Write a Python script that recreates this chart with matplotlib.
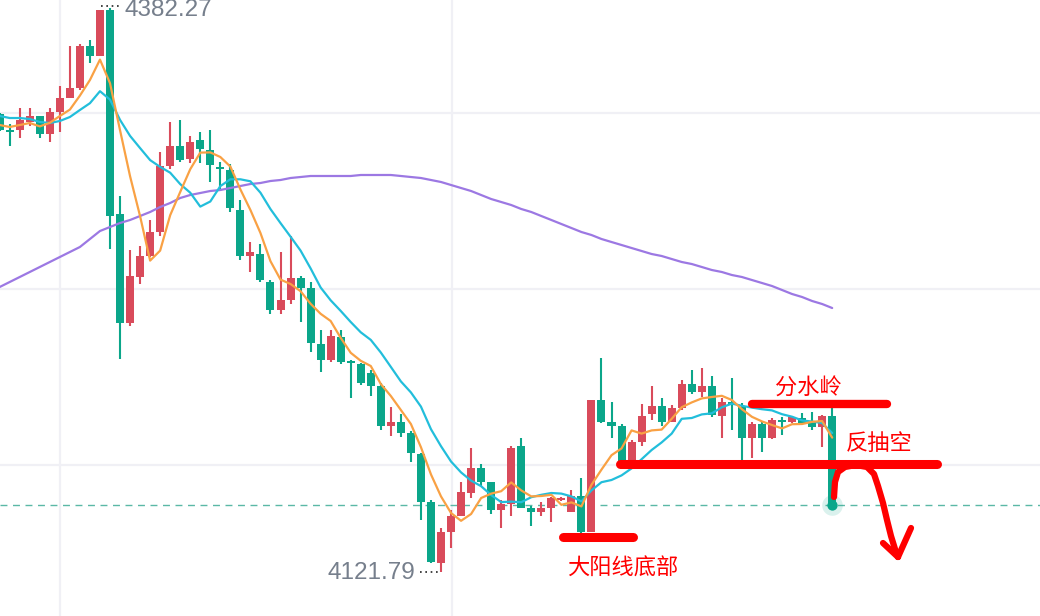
import numpy as np
import pandas as pd
import matplotlib
matplotlib.use("Agg")
import matplotlib.pyplot as plt

plt.rcParams['font.family'] = ['Noto Sans CJK SC', 'DejaVu Sans']

# ---------------- data (prices) ----------------
opens = [4333.32, 4325.93, 4325.93, 4329.63, 4332.40, 4324.08, 4334.24, 4340.71, 4345.33, 4364.73,
         4360.11, 4381.35, 4287.14, 4236.80, 4258.04, 4267.74, 4278.82, 4309.30, 4318.54, 4312.54,
         4321.31, 4316.69, 4308.84, 4307.46, 4288.98, 4267.74, 4268.66, 4255.73, 4242.80, 4247.42,
         4257.58, 4252.96, 4227.10, 4219.71, 4230.33, 4219.25, 4217.86, 4213.70, 4207.70, 4189.23,
         4191.07, 4185.99, 4176.29, 4154.13, 4125.95, 4140.27, 4147.66, 4158.28, 4169.83, 4163.36,
         4150.43, 4153.20, 4179.99, 4151.36, 4149.51, 4151.36, 4155.05, 4149.51, 4156.90, 4140.27,
         4201.23, 4191.07, 4189.23, 4172.60, 4181.84, 4194.77, 4198.46, 4191.07, 4197.54, 4208.62,
         4204.93, 4207.70, 4193.84, 4200.31, 4198.00, 4183.68, 4190.15, 4183.68, 4192.00, 4191.07,
         4192.92, 4190.61, 4188.76, 4193.84]
highs = [4333.78, 4328.70, 4336.09, 4336.09, 4332.40, 4336.09, 4346.25, 4364.73, 4365.65, 4367.50,
         4381.35, 4382.27, 4295.45, 4270.51, 4272.36, 4284.37, 4315.77, 4329.63, 4330.55, 4323.16,
         4325.01, 4325.93, 4311.15, 4310.23, 4293.60, 4274.20, 4273.28, 4256.65, 4269.59, 4276.97,
         4258.50, 4255.73, 4233.56, 4233.56, 4233.56, 4219.71, 4218.32, 4215.09, 4209.09, 4198.00,
         4194.77, 4186.92, 4176.76, 4155.05, 4142.12, 4150.43, 4163.36, 4179.07, 4171.68, 4163.36,
         4155.05, 4179.99, 4183.68, 4152.28, 4154.13, 4156.44, 4156.44, 4159.67, 4165.21, 4201.23,
         4220.63, 4200.31, 4190.15, 4182.76, 4199.39, 4207.70, 4202.16, 4198.92, 4210.47, 4215.09,
         4216.01, 4212.32, 4202.16, 4211.39, 4199.85, 4191.07, 4191.07, 4192.92, 4193.38, 4193.84,
         4195.23, 4195.69, 4194.31, 4197.54]
lows = [4325.47, 4318.54, 4322.24, 4327.78, 4322.24, 4320.39, 4325.01, 4340.71, 4344.40, 4356.87,
        4360.11, 4270.97, 4220.17, 4235.41, 4254.81, 4267.28, 4276.97, 4307.92, 4311.15, 4310.69,
        4310.69, 4301.92, 4297.76, 4288.06, 4265.89, 4260.35, 4255.73, 4240.95, 4240.95, 4245.57,
        4237.26, 4223.40, 4214.17, 4218.78, 4217.86, 4202.16, 4208.16, 4203.08, 4187.38, 4184.61,
        4184.15, 4172.60, 4145.81, 4125.95, 4121.79, 4132.88, 4147.66, 4155.98, 4161.52, 4148.58,
        4142.12, 4147.66, 4151.36, 4143.04, 4147.66, 4144.89, 4154.59, 4149.51, 4138.89, 4140.27,
        4190.61, 4183.68, 4172.14, 4172.60, 4179.99, 4192.00, 4189.23, 4191.07, 4196.62, 4204.01,
        4202.62, 4193.38, 4183.68, 4187.38, 4173.52, 4174.45, 4177.22, 4183.22, 4185.07, 4190.61,
        4189.69, 4187.38, 4179.53, 4152.74]
closes = [4325.93, 4325.01, 4330.55, 4332.40, 4324.08, 4334.24, 4340.71, 4345.33, 4364.73, 4360.11,
          4381.35, 4286.21, 4236.80, 4258.50, 4267.74, 4278.82, 4309.30, 4318.54, 4312.08, 4320.39,
          4317.16, 4309.77, 4307.92, 4289.91, 4267.74, 4269.59, 4256.65, 4242.80, 4247.42, 4257.58,
          4252.96, 4227.56, 4219.71, 4230.79, 4218.78, 4218.32, 4209.09, 4207.70, 4189.23, 4191.07,
          4185.99, 4176.76, 4154.13, 4126.42, 4140.27, 4147.66, 4158.74, 4169.83, 4163.36, 4150.43,
          4153.20, 4179.07, 4151.36, 4149.51, 4151.36, 4155.98, 4155.98, 4156.90, 4140.27, 4201.23,
          4191.07, 4189.23, 4172.60, 4181.84, 4193.84, 4198.46, 4191.07, 4197.54, 4208.62, 4204.93,
          4207.70, 4194.31, 4200.31, 4198.92, 4183.68, 4190.15, 4183.68, 4192.00, 4191.07, 4193.38,
          4190.61, 4188.76, 4193.84, 4152.74]

# moving-average values at the left edge (history before the visible window)
ma5_lead = [4328.24, 4327.32, 4328.24, 4329.16]
ma10_lead = [4332.40, 4331.47, 4331.47, 4331.01, 4329.63, 4329.16, 4330.09, 4331.93, 4335.17]

# long moving average (purple) at each candle
ma_long = [4253.42, 4255.73, 4258.04, 4260.35, 4262.66, 4264.97, 4267.28, 4269.59, 4271.90, 4275.59,
           4279.28, 4281.13, 4282.98, 4284.37, 4286.21, 4288.06, 4290.37, 4292.22, 4294.53, 4295.91,
           4296.83, 4297.76, 4298.22, 4299.14, 4300.07, 4300.99, 4301.45, 4302.38, 4302.84, 4303.76,
           4304.22, 4304.69, 4304.69, 4304.69, 4304.69, 4304.69, 4305.15, 4305.15, 4305.15, 4305.15,
           4304.69, 4304.22, 4303.76, 4302.84, 4301.92, 4300.53, 4299.14, 4297.76, 4295.91, 4294.06,
           4292.68, 4291.29, 4289.45, 4288.06, 4286.21, 4284.37, 4282.52, 4280.67, 4278.82, 4277.44,
           4275.59, 4274.20, 4272.82, 4271.43, 4270.05, 4268.66, 4267.74, 4266.35, 4264.97, 4264.04,
           4262.66, 4261.27, 4260.35, 4258.96, 4258.04, 4256.65, 4255.27, 4253.88, 4252.04, 4250.19,
           4248.80, 4246.96, 4245.57, 4243.72]

grid_prices = [4333.78, 4252.50, 4171.21]
grid_candles = [6.0, 45.1]

high_label = "4382.27"
low_label = "4121.79"

# ---------------- styling ----------------
UP = '#d94b5b'
DOWN = '#0ba68a'
C_MA5 = '#f9a144'
C_MA10 = '#22bedb'
C_LONG = '#9c78e3'
GRID = '#f0f0f5'
ANN = '#ff0000'

fig = plt.figure(figsize=(10.4, 6.16), dpi=100)
ax = fig.add_axes([0, 0, 1, 1])
ax.set_xlim(0.033, 103.72)
ax.set_ylim(4101.48, 4385.97)
ax.axis('off')

o = np.array(opens); h = np.array(highs); l = np.array(lows); c = np.array(closes)
idx = np.arange(len(c))

# grid
for gp in grid_prices:
    ax.axhline(gp, color=GRID, lw=1.6, zorder=0)
for gc in grid_candles:
    ax.axvline(gc, color=GRID, lw=1.6, zorder=0)

# candles
up = c >= o
colors = np.where(up, UP, DOWN)
ax.vlines(idx, l, h, colors=colors, lw=1.5, zorder=2)
body_bottom = np.minimum(o, c)
body_h = np.maximum(np.abs(c - o), 0.8)
ax.bar(idx, body_h, bottom=body_bottom, width=0.8, color=colors, linewidth=0, zorder=3)

# moving averages
cs = pd.Series(c)
ma5 = cs.rolling(5).mean().to_numpy()
ma5[:len(ma5_lead)] = ma5_lead
ma10 = cs.rolling(10).mean().to_numpy()
ma10[:len(ma10_lead)] = ma10_lead
ax.plot(idx, ma_long, color=C_LONG, lw=1.6, zorder=4, solid_capstyle='round')
ax.plot(idx, ma10, color=C_MA10, lw=1.6, zorder=5, solid_capstyle='round')
ax.plot(idx, ma5, color=C_MA5, lw=1.6, zorder=6, solid_capstyle='round')

# last price dashed line and dot
last = c[-1]
ax.axhline(last, color='#5bb8a6', lw=1.0, ls=(0, (5, 4)), zorder=1)
ax.scatter([idx[-1]], [last], s=220, color=DOWN, alpha=0.15, linewidths=0, zorder=7)
ax.scatter([idx[-1]], [last], s=55, color=DOWN, linewidths=0, zorder=8)

# high / low markers
lab_font = ['Liberation Sans', 'DejaVu Sans']
hi_i = int(np.argmax(h)); lo_i = int(np.argmin(l))
ax.plot([hi_i - 0.9, hi_i + 1.0], [h[hi_i] + 1.0, h[hi_i] + 1.0], color='#222222',
        lw=1.2, ls=(0, (1, 2.2)), zorder=9)
ax.text(hi_i + 1.45, h[hi_i] - 0.9, high_label, color='#767f8c', fontsize=17.5,
        ha='left', va='center', family=lab_font, zorder=9)
ax.plot([lo_i - 2.1, lo_i + 0.05], [l[lo_i], l[lo_i]], color='#222222',
        lw=1.2, ls=(0, (1, 2.2)), zorder=9)
ax.text(lo_i - 2.55, l[lo_i] - 0.6, low_label, color='#767f8c', fontsize=17.5,
        ha='right', va='center', family=lab_font, zorder=9)

# ---------------- hand-drawn annotations (pixel positions of the sketch) ----------------
W, H = 1040, 616
def P(x, y):
    return x / W, 1 - y / H

def seg(x0, y0, x1, y1, lw):
    (a, b), (cc, d) = P(x0, y0), P(x1, y1)
    ax.plot([a, cc], [b, d], transform=ax.transAxes, color=ANN, lw=lw,
            solid_capstyle='round', zorder=10)

seg(563, 537, 633, 537, 6.5)
seg(752, 404, 887, 404, 6.0)
seg(620, 464, 937, 464, 6.5)

curve = [(834, 497), (835, 482), (838, 472), (845, 467), (856, 465), (867, 467), (874, 474),
         (878, 486), (883, 503), (887, 520), (891, 536), (895, 549), (898, 557)]
cx = [P(x, y)[0] for x, y in curve]; cy = [P(x, y)[1] for x, y in curve]
ax.plot(cx, cy, transform=ax.transAxes, color=ANN, lw=4.5, solid_capstyle='round',
        solid_joinstyle='round', zorder=10)
seg(883, 543, 898, 557, 4.5)
seg(911, 528, 898, 557, 4.5)

tx = dict(transform=ax.transAxes, color=ANN, fontsize=16, ha='center', va='center', zorder=11)
ax.text(*P(623, 568), "大阳线底部", **tx)
ax.text(*P(808, 388), "分水岭", **tx)
ax.text(*P(879, 443), "反抽空", **tx)

fig.savefig("out.png", dpi=100, facecolor='white')
